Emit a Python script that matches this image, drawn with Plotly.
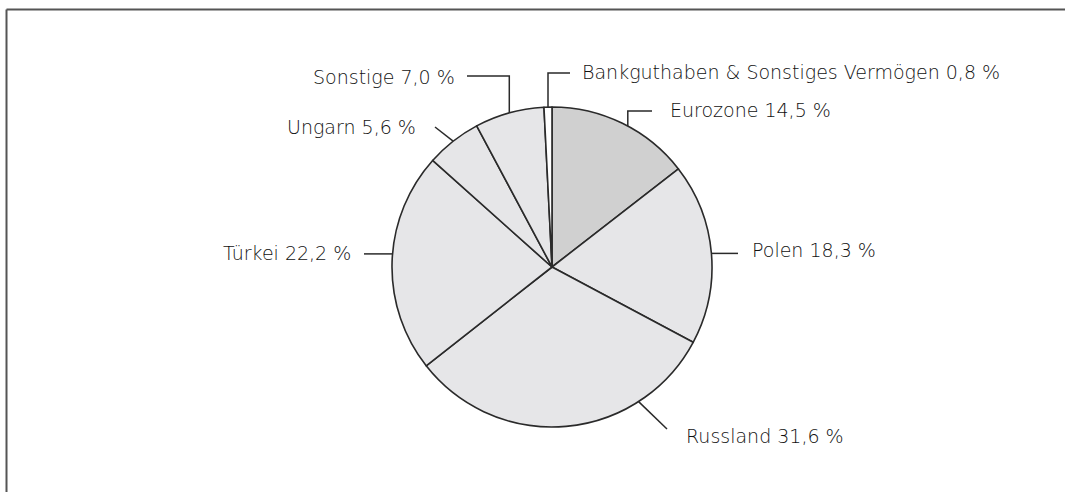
import math
import plotly.graph_objects as go

# ---- data ----
categories = ["Eurozone", "Polen", "Russland", "Türkei", "Ungarn", "Sonstige",
              "Bankguthaben & Sonstiges Vermögen"]
shares = [14.5, 18.3, 31.6, 22.2, 5.6, 7.0, 0.8]
value_labels = ["14,5 %", "18,3 %", "31,6 %", "22,2 %", "5,6 %", "7,0 %", "0,8 %"]

# ---- style / layout ----
W, H = 1065, 492
CX, CY, R = 552, 267, 160
slice_colors = ["#d0d0d0", "#e6e6e8", "#e6e6e8", "#e6e6e8", "#e6e6e8", "#e6e6e8", "#ffffff"]
# shift of leader anchor from slice mid (in percent of the circle)
anchor_shift = [0.6, 0.0, -7.7, 0.8, 0.0, 0.0, 0.0]
# leader path after anchor: list of (x, y) pixel points; label position & anchor
leaders = [
    dict(pts=[("a", 111), (652, 111)], lx=668, ly=110, xa="left"),
    dict(pts=[(738, "a")], lx=750, ly=250, xa="left"),
    dict(pts=[(667, 429)], lx=684, ly=436, xa="left"),
    dict(pts=[(364, "a")], lx=353, ly=253, xa="right"),
    dict(pts=[(435, 127)], lx=418, ly=127, xa="right"),
    dict(pts=[("a", 76), (467, 76)], lx=457, ly=77, xa="right"),
    dict(pts=[("a", 73), (570, 73)], lx=580, ly=72, xa="left"),
]
FONT = "DejaVu Sans"
FONT_SIZE = 19
FONT_WEIGHT = 300
TEXT_COLOR = "#111111"
LINE_COLOR = "#2a2a2a"

fig = go.Figure()
fig.add_trace(go.Pie(
    labels=categories, values=shares, sort=False, direction="clockwise", rotation=0,
    marker=dict(colors=slice_colors, line=dict(color=LINE_COLOR, width=1.6)),
    textinfo="none", hoverinfo="label+percent", showlegend=False,
    domain=dict(x=[(CX - R) / W, (CX + R) / W], y=[1 - (CY + R) / H, 1 - (CY - R) / H]),
))

total = sum(shares)
cum = 0.0
shapes = []
annotations = []
for i, (cat, v) in enumerate(zip(categories, shares)):
    mid = (cum + v / 2) / total * 100 + anchor_shift[i]
    cum += v
    ang = math.radians(mid * 3.6)
    ax = CX + R * math.sin(ang)
    ay = CY - R * math.cos(ang)
    spec = leaders[i]
    pts = [(ax, ay)]
    for px, py in spec["pts"]:
        px = ax if px == "a" else px
        py = ay if py == "a" else py
        pts.append((px, py))
    path = "M " + " L ".join(f"{x:.1f},{y:.1f}" for x, y in pts)
    shapes.append(dict(type="path", xref="x", yref="y", path=path,
                       line=dict(color=LINE_COLOR, width=1.5)))
    annotations.append(dict(xref="x", yref="y", x=spec["lx"], y=spec["ly"],
                            text=f"{cat} {value_labels[i]}", showarrow=False,
                            xanchor=spec["xa"], yanchor="middle",
                            font=dict(family=FONT, size=FONT_SIZE, color=TEXT_COLOR,
                                      weight=FONT_WEIGHT)))

# frame (left and top edges)
shapes.append(dict(type="line", xref="x", yref="y", x0=6.5, y0=9.5, x1=6.5, y1=H + 5,
                   line=dict(color="#555555", width=2)))
shapes.append(dict(type="line", xref="x", yref="y", x0=6.5, y0=9.5, x1=W + 5, y1=9.5,
                   line=dict(color="#555555", width=2)))

fig.update_layout(
    width=W, height=H, margin=dict(l=0, r=0, t=0, b=0),
    paper_bgcolor="white", plot_bgcolor="rgba(0,0,0,0)",
    xaxis=dict(range=[0, W], visible=False, fixedrange=True),
    yaxis=dict(range=[H, 0], visible=False, fixedrange=True),
    shapes=shapes, annotations=annotations,
)
fig.write_html("out.html", config=dict(displayModeBar=False),
               post_script="document.body.style.margin='0';document.body.style.overflow='hidden';")
